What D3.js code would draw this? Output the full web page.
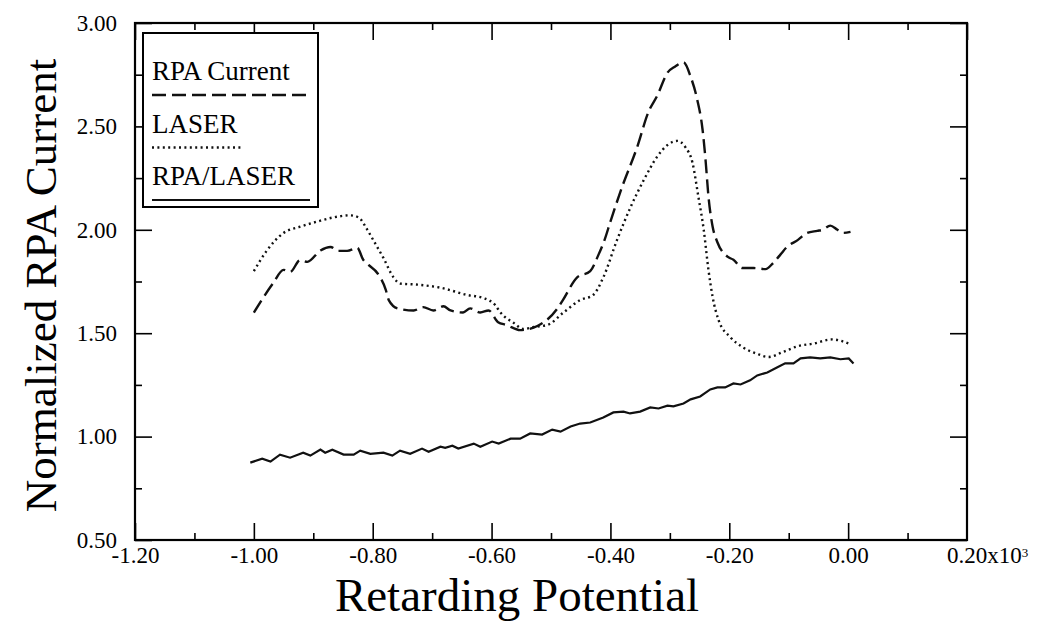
<!DOCTYPE html>
<html>
<head>
<meta charset="utf-8">
<script src="https://cdn.jsdelivr.net/npm/d3@7"></script>
<style>
  body { margin: 0; background: #fff; }
  svg { display: block; font-family: "Liberation Serif", "Times New Roman", serif; }
</style>
</head>
<body>
<div class="chart"></div>
<script>
// data
const rpaX = [-1.00, -0.968, -0.95, -0.939, -0.922, -0.91, -0.888, -0.871, -0.858, -0.843, -0.826, -0.816, -0.807, -0.792, -0.778, -0.773, -0.758, -0.731, -0.715, -0.698, -0.681, -0.669, -0.648, -0.636, -0.619, -0.605, -0.589, -0.575, -0.552, -0.523, -0.489, -0.48, -0.456, -0.434, -0.42, -0.41, -0.40, -0.38, -0.355, -0.336, -0.321, -0.304, -0.291, -0.277, -0.265, -0.254, -0.245, -0.24, -0.235, -0.228, -0.22, -0.203, -0.193, -0.178, -0.159, -0.139, -0.126, -0.114, -0.103, -0.085, -0.069, -0.052, -0.043, -0.03, -0.018, -0.008, 0.004];
const rpaY = [1.60, 1.74, 1.806, 1.796, 1.854, 1.845, 1.90, 1.917, 1.898, 1.898, 1.913, 1.855, 1.83, 1.79, 1.71, 1.66, 1.62, 1.61, 1.626, 1.61, 1.63, 1.61, 1.60, 1.62, 1.60, 1.61, 1.553, 1.54, 1.515, 1.535, 1.62, 1.66, 1.77, 1.80, 1.88, 1.95, 2.04, 2.21, 2.40, 2.57, 2.65, 2.76, 2.79, 2.81, 2.74, 2.63, 2.485, 2.34, 2.16, 2.015, 1.94, 1.87, 1.855, 1.815, 1.815, 1.81, 1.84, 1.88, 1.917, 1.95, 1.985, 1.995, 2.0, 2.02, 2.0, 1.985, 1.99];

const laserX = [-1.00, -0.978, -0.95, -0.922, -0.893, -0.866, -0.838, -0.824, -0.809, -0.799, -0.782, -0.765, -0.754, -0.725, -0.686, -0.641, -0.614, -0.594, -0.585, -0.563, -0.546, -0.529, -0.506, -0.479, -0.451, -0.429, -0.412, -0.389, -0.366, -0.344, -0.321, -0.304, -0.287, -0.274, -0.262, -0.252, -0.243, -0.235, -0.228, -0.218, -0.198, -0.176, -0.153, -0.134, -0.109, -0.085, -0.058, -0.027, 0.004];
const laserY = [1.80, 1.90, 1.985, 2.015, 2.04, 2.06, 2.07, 2.06, 2.0, 1.95, 1.864, 1.77, 1.74, 1.735, 1.72, 1.685, 1.67, 1.636, 1.60, 1.55, 1.52, 1.53, 1.54, 1.60, 1.66, 1.685, 1.77, 1.95, 2.11, 2.24, 2.355, 2.41, 2.43, 2.40, 2.325, 2.16, 2.0, 1.805, 1.675, 1.563, 1.48, 1.43, 1.40, 1.385, 1.41, 1.437, 1.45, 1.47, 1.446];

const ratioX = [-1.006, -0.986, -0.972, -0.956, -0.939, -0.917, -0.905, -0.888, -0.88, -0.868, -0.849, -0.832, -0.821, -0.804, -0.782, -0.767, -0.754, -0.737, -0.717, -0.706, -0.686, -0.678, -0.666, -0.656, -0.63, -0.619, -0.599, -0.588, -0.568, -0.552, -0.535, -0.515, -0.498, -0.484, -0.467, -0.451, -0.434, -0.412, -0.395, -0.378, -0.367, -0.35, -0.333, -0.319, -0.304, -0.294, -0.277, -0.265, -0.249, -0.232, -0.22, -0.207, -0.193, -0.181, -0.165, -0.153, -0.136, -0.119, -0.106, -0.092, -0.08, -0.064, -0.047, -0.03, -0.013, 0.001, 0.009];
const ratioY = [0.874, 0.893, 0.879, 0.913, 0.898, 0.922, 0.908, 0.937, 0.922, 0.937, 0.913, 0.913, 0.932, 0.917, 0.922, 0.908, 0.932, 0.917, 0.942, 0.927, 0.951, 0.946, 0.956, 0.942, 0.966, 0.951, 0.976, 0.966, 0.99, 0.99, 1.015, 1.01, 1.034, 1.024, 1.049, 1.063, 1.068, 1.092, 1.117, 1.121, 1.112, 1.121, 1.141, 1.136, 1.15, 1.146, 1.16, 1.18, 1.194, 1.228, 1.238, 1.238, 1.257, 1.252, 1.272, 1.296, 1.31, 1.335, 1.354, 1.354, 1.378, 1.383, 1.378, 1.383, 1.374, 1.378, 1.354];

const xMajor = [-1.2, -1.0, -0.8, -0.6, -0.4, -0.2, 0.0, 0.2];
const xMinor = [-1.1, -0.9, -0.7, -0.5, -0.3, -0.1, 0.1];
const yMajor = [0.5, 1.0, 1.5, 2.0, 2.5, 3.0];
const yMinor = [0.75, 1.25, 1.75, 2.25, 2.75];
const legendNames = ["RPA Current", "LASER", "RPA/LASER"];

// setup chart
const width = 1037;
const height = 623;
const margin = { top: 23, right: 70, bottom: 83, left: 135 };
const svg = d3.select(".chart").append("svg").attr("width", width).attr("height", height);

const x = d3.scaleLinear().domain([-1.2, 0.2]).range([margin.left, width - margin.right]);
const y = d3.scaleLinear().domain([0.5, 3.0]).range([height - margin.bottom, margin.top]);

const major = 17, minor = 7;
// plain hyphen for negatives, like the original plot
const fmt = (d) => d3.format(".2f")(d).replace("\u2212", "-");

// ticks on all four sides, pointing in
function styleAxis(g) {
   g.select(".domain").remove();
   g.selectAll("line").attr("stroke", "#000").attr("stroke-width", 1.6);
   g.selectAll("text").attr("fill", "#000").style("font-size", "23px").style("font-family", "Liberation Serif, serif");
}

svg.append("g").attr("transform", `translate(0,${y(0.5)})`)
   .call(d3.axisBottom(x).tickValues(xMajor.slice(0, -1)).tickSize(-major).tickPadding(7).tickFormat(fmt))
   .call(styleAxis);
svg.append("g").attr("transform", `translate(0,${y(0.5)})`)
   .call(d3.axisBottom(x).tickValues(xMinor).tickSize(-minor).tickFormat(""))
   .call(styleAxis);
svg.append("g").attr("transform", `translate(0,${y(3.0)})`)
   .call(d3.axisTop(x).tickValues(xMajor).tickSize(-major).tickFormat(""))
   .call(styleAxis);
svg.append("g").attr("transform", `translate(0,${y(3.0)})`)
   .call(d3.axisTop(x).tickValues(xMinor).tickSize(-minor).tickFormat(""))
   .call(styleAxis);

svg.append("g").attr("transform", `translate(${x(-1.2)},0)`)
   .call(d3.axisLeft(y).tickValues(yMajor).tickSize(-major).tickPadding(18).tickFormat(fmt))
   .call(styleAxis);
svg.append("g").attr("transform", `translate(${x(-1.2)},0)`)
   .call(d3.axisLeft(y).tickValues(yMinor).tickSize(-minor).tickFormat(""))
   .call(styleAxis);
svg.append("g").attr("transform", `translate(${x(0.2)},0)`)
   .call(d3.axisRight(y).tickValues(yMajor).tickSize(-major).tickFormat(""))
   .call(styleAxis);
svg.append("g").attr("transform", `translate(${x(0.2)},0)`)
   .call(d3.axisRight(y).tickValues(yMinor).tickSize(-minor).tickFormat(""))
   .call(styleAxis);

// last x label carries the x10^3 multiplier
const lastLabel = svg.append("text")
   .attr("x", x(0.2) - 20)
   .attr("y", y(0.5) + 7)
   .attr("dy", "0.71em")
   .attr("fill", "#000")
   .style("font-size", "23px");
lastLabel.append("tspan").text("0.20x10");
lastLabel.append("tspan").attr("dy", "-0.45em").style("font-size", "13px").text("3");

// frame
svg.append("rect")
   .attr("x", x(-1.2)).attr("y", y(3.0))
   .attr("width", x(0.2) - x(-1.2)).attr("height", y(0.5) - y(3.0))
   .attr("fill", "none").attr("stroke", "#000").attr("stroke-width", 2.2);

// axis titles
svg.append("text")
   .attr("x", 517)
   .attr("y", 611)
   .attr("text-anchor", "middle")
   .attr("fill", "#000")
   .style("font-size", "47px")
   .text("Retarding Potential");

svg.append("text")
   .attr("transform", `translate(56,${(y(0.5) + y(3.0)) / 2 + 4}) rotate(-90)`)
   .attr("text-anchor", "middle")
   .attr("fill", "#000")
   .style("font-size", "45px")
   .text("Normalized RPA Current");

// series
const smooth = d3.line().x((d) => x(d[0])).y((d) => y(d[1])).curve(d3.curveMonotoneX);
const plain = d3.line().x((d) => x(d[0])).y((d) => y(d[1]));

const series = [
   { pts: d3.zip(rpaX, rpaY), line: smooth, dash: "14,6", w: 2.4 },
   { pts: d3.zip(laserX, laserY), line: smooth, dash: "2,3.4", w: 2.4 },
   { pts: d3.zip(ratioX, ratioY), line: plain, dash: null, w: 2.2 }
];

svg.append("g").selectAll("path")
   .data(series)
   .enter()
   .append("path")
   .attr("d", (d) => d.line(d.pts))
   .attr("fill", "none")
   .attr("stroke", "#111")
   .attr("stroke-width", (d) => d.w)
   .attr("stroke-dasharray", (d) => d.dash);

// legend
const legend = svg.append("g");
legend.append("rect")
   .attr("x", 143).attr("y", 33).attr("width", 175).attr("height", 174)
   .attr("fill", "#fff").attr("stroke", "#000").attr("stroke-width", 2);

const rows = legend.selectAll("g.row")
   .data(legendNames)
   .enter()
   .append("g")
   .attr("class", "row")
   .attr("transform", (d, i) => `translate(152,${80 + i * 52.5})`);

rows.append("text")
   .attr("fill", "#000")
   .style("font-size", "27px")
   .text((d) => d);

rows.append("line")
   .attr("x1", 0)
   .attr("x2", (d, i) => [155, 91, 158][i])
   .attr("y1", 15).attr("y2", 15)
   .attr("stroke", "#111")
   .attr("stroke-width", (d, i) => series[i].w)
   .attr("stroke-dasharray", (d, i) => series[i].dash);
</script>
</body>
</html>
